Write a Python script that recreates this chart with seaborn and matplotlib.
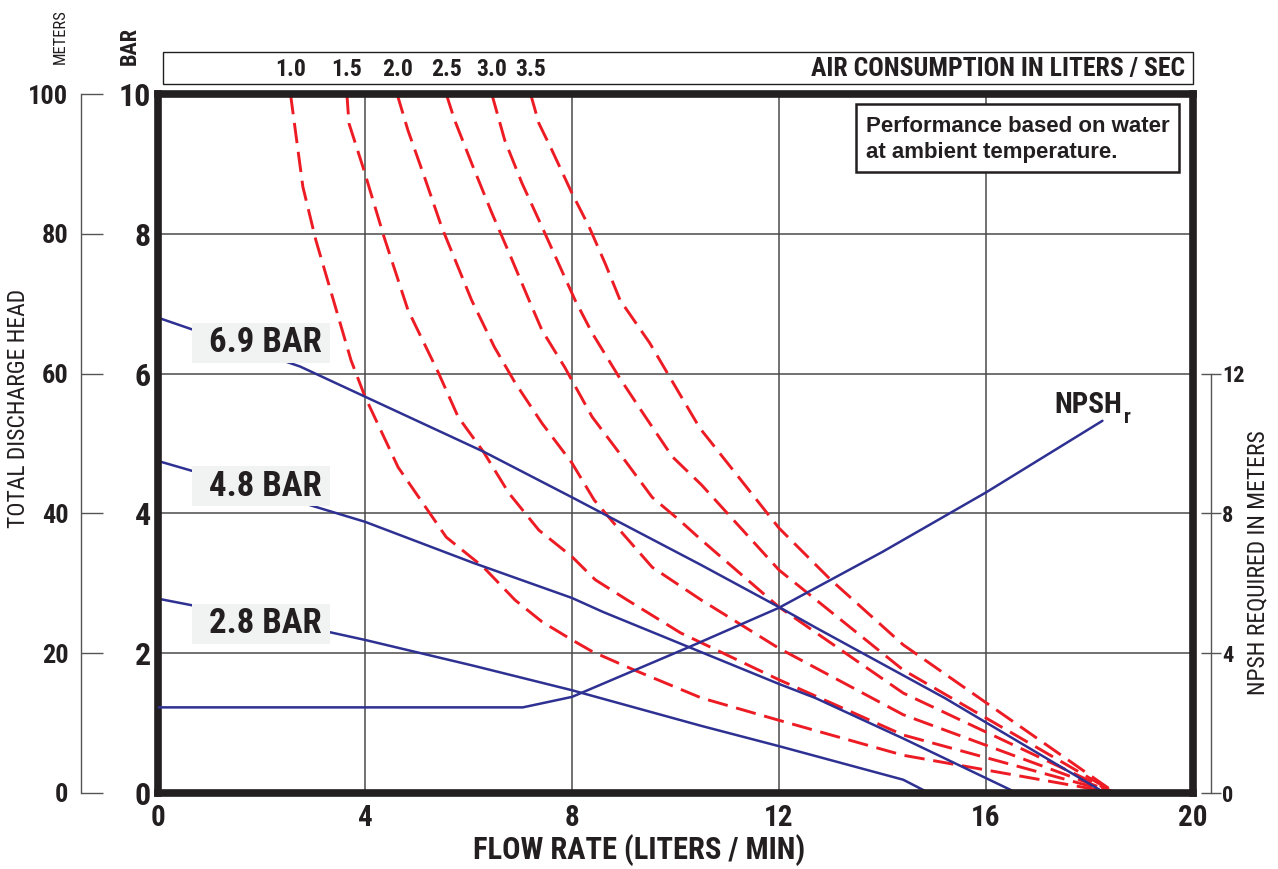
import matplotlib
matplotlib.use("Agg")
import matplotlib.pyplot as plt
import matplotlib.patches as mpatches
import matplotlib.transforms as mtransforms
import pandas as pd
import seaborn as sns

# 토출 압력별 곡선 (유량 L/min, 양정 m)
flow_69 = [0, 2.75, 4.0, 6.3, 8.0, 10.5, 12.0, 12.7, 15.2, 18.3]
head_69 = [68.0, 61.0, 56.7, 48.8, 42.3, 32.6, 26.6, 23.7, 13.6, 0]
flow_48 = [0, 2.75, 4.0, 6.1, 8.0, 8.6, 12.0, 12.7, 14.4, 16.6]
head_48 = [47.5, 41.6, 38.8, 32.9, 27.9, 25.9, 15.6, 13.6, 7.8, 0]
flow_28 = [0, 3.2, 4.0, 6.1, 8.0, 10.5, 12.0, 14.4, 14.9]
head_28 = [27.8, 23.2, 21.9, 18.2, 14.7, 9.6, 6.7, 1.9, 0]
bar_labels = ["6.9 BAR", "4.8 BAR", "2.8 BAR"]

# NPSHr (m)
flow_npsh = [0, 7.05, 8.0, 10.3, 12.0, 14.0, 16.0, 18.25]
npsh_m = [2.45, 2.45, 2.75, 4.2, 5.3, 6.9, 8.6, 10.65]

# 공기 소비량 곡선 (L/sec)
air_labels = ["1.0", "1.5", "2.0", "2.5", "3.0", "3.5"]
flow_a10 = [2.56, 2.8, 3.05, 3.73, 4.0, 4.64, 5.57, 6.29, 6.9, 7.42, 8.0, 8.4, 9.2, 10.5, 12.0, 14.4, 18.5]
head_a10 = [100, 86.7, 79.1, 61.9, 56.7, 46.6, 36.6, 32.3, 27.6, 24.5, 21.9, 20.2, 17.6, 13.6, 10.4, 5.4, 0]
flow_a15 = [3.65, 3.69, 3.98, 4.37, 4.83, 5.42, 5.8, 6.29, 6.78, 7.36, 8.0, 8.45, 9.07, 10.1, 12.0, 14.4, 18.5]
head_a15 = [100, 95.8, 89.1, 79.5, 69.1, 60.1, 53.8, 48.8, 42.9, 37.6, 33.8, 30.5, 27.6, 22.9, 16.2, 8.3, 0]
flow_a20 = [4.62, 4.83, 5.15, 5.48, 6.06, 6.5, 6.9, 7.42, 8.0, 8.43, 8.97, 9.55, 10.5, 12.0, 14.4, 18.5]
head_a20 = [100, 94.8, 88.1, 81.0, 70.5, 63.8, 58.7, 52.9, 47.2, 41.9, 37.2, 32.3, 27.6, 20.7, 11.2, 0]
flow_a25 = [5.57, 5.73, 6.06, 6.45, 6.8, 7.17, 7.42, 7.86, 8.39, 8.97, 9.55, 10.08, 10.5, 12.0, 14.4, 18.5]
head_a25 = [100, 96.3, 90.1, 83.0, 77.0, 70.5, 66.2, 60.9, 53.8, 48.1, 42.3, 39.0, 36.2, 26.6, 14.3, 0]
flow_a30 = [6.45, 6.7, 7.03, 7.42, 8.06, 8.39, 8.91, 9.42, 9.94, 10.5, 12.0, 14.4, 18.5]
head_a30 = [100, 93.4, 87.3, 81.0, 70.5, 65.8, 59.5, 53.8, 48.1, 44.1, 31.9, 17.6, 0]
flow_a35 = [7.2, 7.36, 7.61, 8.0, 8.33, 8.65, 8.93, 9.5, 10.0, 10.47, 12.0, 13.0, 14.4, 18.5]
head_a35 = [100, 95.8, 92.0, 85.8, 81.0, 75.6, 70.5, 64.4, 58.1, 52.2, 37.9, 30.5, 21.2, 0]

# 축 눈금
flow_ticks = [0, 4, 8, 12, 16, 20]
meter_ticks = [0, 20, 40, 60, 80, 100]
bar_ticks = ["0", "2", "4", "6", "8", "10"]
npsh_ticks = [0, 4, 8, 12]

W, H = 1278, 869
BLUE = "#2e3192"
RED = "#ed1c24"
DARK = "#231f20"

sns.set_style("white")
plt.rcParams['font.family'] = ['Roboto Condensed', 'Liberation Sans', 'DejaVu Sans']

fig = plt.figure(figsize=(W / 100, H / 100), dpi=100)
ax = fig.add_axes([158 / W, 1 - 793 / H, (1193 - 158) / W, (793 - 94) / H])

# 공기 소비량 (빨간 점선)
air_curves = [(flow_a10, head_a10), (flow_a15, head_a15), (flow_a20, head_a20),
              (flow_a25, head_a25), (flow_a30, head_a30), (flow_a35, head_a35)]
for fl, hd in air_curves:
    df = pd.DataFrame({"flow": fl, "head": hd})
    sns.lineplot(data=df, x="flow", y="head", sort=False, estimator=None, ax=ax,
                 color=RED, lw=2.1, linestyle=(0, (7, 3)), zorder=3)

# 압력 곡선 (파란 실선)
bar_curves = [(flow_69, head_69), (flow_48, head_48), (flow_28, head_28)]
for fl, hd in bar_curves:
    df = pd.DataFrame({"flow": fl, "head": hd})
    sns.lineplot(data=df, x="flow", y="head", sort=False, estimator=None, ax=ax,
                 color=BLUE, lw=1.8, zorder=4)

# 라벨 박스
for (fl, hd), lab in zip(bar_curves, bar_labels):
    ax.add_patch(mpatches.Rectangle((0.66, hd[0] - 6.5), 2.66, 5.8, fc="#f1f3f3",
                                    ec="none", zorder=5))
    ax.text(2.07, hd[0] - 3.6, lab, ha="center", va="center", fontsize=25,
            fontweight="bold", color=DARK, zorder=6)

ax.set_xlim(0, 20)
ax.set_ylim(0, 100)
ax.set_xlabel("")
ax.set_ylabel("")
ax.set_xticks(flow_ticks)
ax.set_xticklabels([str(t) for t in flow_ticks], fontsize=21, fontweight="bold", color=DARK)
ax.set_yticks(meter_ticks)
ax.set_yticklabels(bar_ticks, fontsize=23, fontweight="bold", color=DARK)
ax.tick_params(axis="both", length=0)
ax.tick_params(axis="x", pad=8)
ax.tick_params(axis="y", pad=5)
ax.grid(True, color="#4a4a4a", lw=1.1)
ax.set_axisbelow(True)
for s in ax.spines.values():
    s.set_visible(True)
    s.set_linewidth(5.5)
    s.set_color(DARK)
    s.set_capstyle("projecting")
    s.set_zorder(8)

# 미터 축 (왼쪽 바깥)
ax_m = ax.twinx()
ax_m.set_ylim(0, 100)
ax_m.yaxis.set_ticks_position("left")
for k in ["top", "right", "bottom"]:
    ax_m.spines[k].set_visible(False)
ax_m.spines["left"].set_visible(True)
ax_m.spines["left"].set_position(("outward", 55.5))
ax_m.spines["left"].set_color("#555555")
ax_m.spines["left"].set_linewidth(1.0)
ax_m.set_yticks(meter_ticks)
ax_m.set_yticklabels([str(t) for t in meter_ticks], fontsize=19, fontweight="bold", color=DARK)
ax_m.tick_params(axis="y", direction="in", length=16, width=1.0, color="#555555", pad=9)

# NPSH 축 (오른쪽)
ax_n = ax.twinx()
ax_n.set_ylim(0, 20)
for k in ["top", "left", "bottom"]:
    ax_n.spines[k].set_visible(False)
ax_n.spines["right"].set_visible(True)
ax_n.spines["right"].set_position(("outward", 13))
ax_n.spines["right"].set_bounds(0, 12)
ax_n.spines["right"].set_color("#555555")
ax_n.spines["right"].set_linewidth(1.0)
ax_n.set_yticks(npsh_ticks)
ax_n.set_yticklabels([str(t) for t in npsh_ticks], fontsize=16, fontweight="bold", color=DARK)
ax_n.tick_params(axis="y", direction="inout", length=14, width=1.0, color="#555555", pad=1)
df_n = pd.DataFrame({"flow": flow_npsh, "npsh": npsh_m})
sns.lineplot(data=df_n, x="flow", y="npsh", sort=False, estimator=None, ax=ax_n,
             color=BLUE, lw=1.8)
ax_n.set_xlabel("")
ax_n.set_ylabel("")
ax_n.set_xlim(0, 20)

ax.text(18.63, 54.4, "NPSH", ha="right", va="baseline", fontsize=21,
        fontweight="bold", color=DARK)
ax.text(18.66, 53.0, "r", ha="left", va="baseline", fontsize=15,
        fontweight="bold", color=DARK)

# 상단 공기 소비량 박스
ax.add_patch(mpatches.Rectangle((0.005, 1.0143), 0.995, 0.046, transform=ax.transAxes,
                                fc="white", ec=DARK, lw=1.0, clip_on=False))
blend = mtransforms.blended_transform_factory(ax.transData, ax.transAxes)
for (fl, hd), lab in zip(air_curves, air_labels):
    ax.text(fl[0], 1.035, lab, transform=blend, ha="center", va="center",
            fontsize=17, fontweight="bold", color=DARK)
ax.text(0.992, 1.036, "AIR CONSUMPTION IN LITERS / SEC", transform=ax.transAxes,
        ha="right", va="center", fontsize=18.5, fontweight="bold", color=DARK)

# 안내 박스
ax.add_patch(mpatches.Rectangle((0.674, 0.888), 0.3125, 0.0977, transform=ax.transAxes,
                                fc="white", ec=DARK, lw=1.8, zorder=7))
ax.text(0.684, 0.935, "Performance based on water\nat ambient temperature.",
        transform=ax.transAxes, ha="left", va="center", fontsize=16,
        fontweight="bold", color=DARK, linespacing=1.35, zorder=9,
        family=["Liberation Sans", "DejaVu Sans"])

# 축 제목
fig.text(639 / W, 1 - 850 / H, "FLOW RATE (LITERS / MIN)", ha="center", va="center",
         fontsize=22, fontweight="bold", color=DARK)
fig.text(19 / W, 1 - 408 / H, "TOTAL DISCHARGE HEAD", rotation=90, ha="center",
         va="center", fontsize=17, color=DARK)
fig.text(60 / W, 1 - 37 / H, "METERS", rotation=90, ha="center", va="center",
         fontsize=12, color=DARK)
fig.text(130 / W, 1 - 46 / H, "BAR", rotation=90, ha="center", va="center",
         fontsize=16, fontweight="bold", color=DARK)
fig.text(1258 / W, 1 - 563 / H, "NPSH REQUIRED IN METERS", rotation=90, ha="center",
         va="center", fontsize=17, color=DARK)

fig.savefig("out.png", dpi=100)
